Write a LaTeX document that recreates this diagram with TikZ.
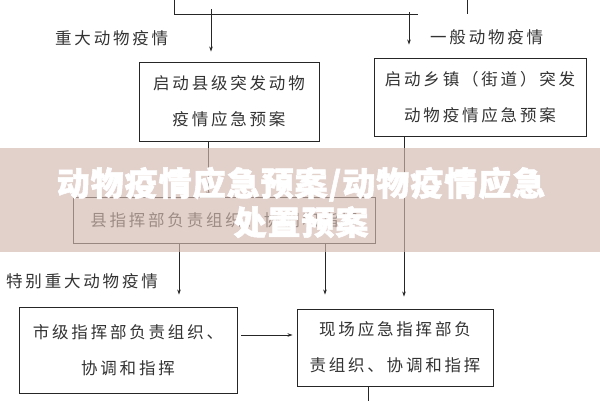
\documentclass[tikz,border=0pt]{standalone}
\usepackage{fontspec}
\newfontfamily\cjk{Noto Sans CJK SC}[LetterSpace=17]
\newfontfamily\cjktitle{Noto Sans CJK SC}[LetterSpace=3, BoldFeatures={FakeBold=1.6}]
\usetikzlibrary{arrows.meta}
\definecolor{txt}{HTML}{333333}
\definecolor{band}{RGB}{212,185,177}
\begin{document}
\begin{tikzpicture}[x=1pt,y=-1pt,
  box/.style={draw=black!85, line width=0.9pt, inner sep=0pt, align=center, text=txt,
    font=\cjk\fontsize{16.5}{36}\selectfont},
  lbl/.style={text=txt, font=\cjk\fontsize{16.5}{20}\selectfont, inner sep=0pt, anchor=west},
  conn/.style={draw=black!85, line width=0.8pt},
  arr/.style={conn, -{Stealth[length=5pt,width=3.5pt]}}]
\useasboundingbox (0,0) rectangle (600,400);
\clip (0,0) rectangle (600,400);
\fill[white] (0,0) rectangle (600,400);

% top partial box
\node[lbl, text=txt!60] (top) at (322,-8.5) {疫情确认};
\coordinate (t0) at (174,-3);
\coordinate (t1) at (174,14);
\coordinate (t2) at (418,14);
\draw[conn] (t0) -- (t1) -- (t2);
\coordinate (r0) at (467,-3);
\coordinate (r1) at (467,14);
\draw[conn] (r0) -- (r1);

% boxes
\node[box, minimum width=180pt, minimum height=79pt] (A) at (229,101.5) {启动县级突发动物\\疫情应急预案};
\node[box, minimum width=212pt, minimum height=78pt] (B) at (480,97) {启动乡镇（街道）突发\\动物疫情应急预案};
\node[box, minimum width=302pt, minimum height=46pt] (C) at (224,220) {县指挥部负责组织、协调和指挥};
\node[box, minimum width=218pt, minimum height=86pt] (D) at (128,350) {市级指挥部负责组织、\\协调和指挥};
\node[box, minimum width=196pt, minimum height=77pt] (E) at (395,347.5) {现场应急指挥部负\\责组织、协调和指挥};

% labels
\node[lbl] (l1) at (55,38) {重大动物疫情};
\node[lbl] (l2) at (430,37) {一般动物疫情};
\node[lbl] (l3) at (6,281) {特别重大动物疫情};

% connectors
\coordinate (a1s) at (211,9);
\coordinate (a2s) at (409,12);
\draw[arr, shorten >=10pt] (a1s) -- ([xshift=-18pt]A.north);
\draw[arr, shorten >=13pt] (a2s) -- ([xshift=-71pt]B.north);
\draw[arr] ([xshift=-21pt]A.south) -- ([xshift=-16pt]C.north);
\draw[arr, shorten >=12pt] ([xshift=-76pt]B.south) -- ([xshift=9pt]E.north);
\draw[arr, shorten >=12pt] ([xshift=-45pt]C.south) -- ([xshift=51pt]D.north);
\draw[arr, shorten >=14pt] ([xshift=101pt]C.south) -- ([xshift=-70pt]E.north);
\draw[arr, shorten <=4pt, shorten >=4pt] ([yshift=15pt]D.east) -- ([yshift=12.5pt]E.west);
\coordinate (eend) at (368,403);
\draw[conn] ([xshift=-27pt]E.south) -- (eend);

% banner overlay
\fill[band, opacity=0.66] (0,148) rectangle (600,252);
\node[font=\cjktitle\bfseries\fontsize{33}{39}\selectfont, text=white, align=center, inner sep=0pt] (title) at (301,202.5) {动物疫情应急预案/动物疫情应急\\处置预案};
\end{tikzpicture}
\end{document}
